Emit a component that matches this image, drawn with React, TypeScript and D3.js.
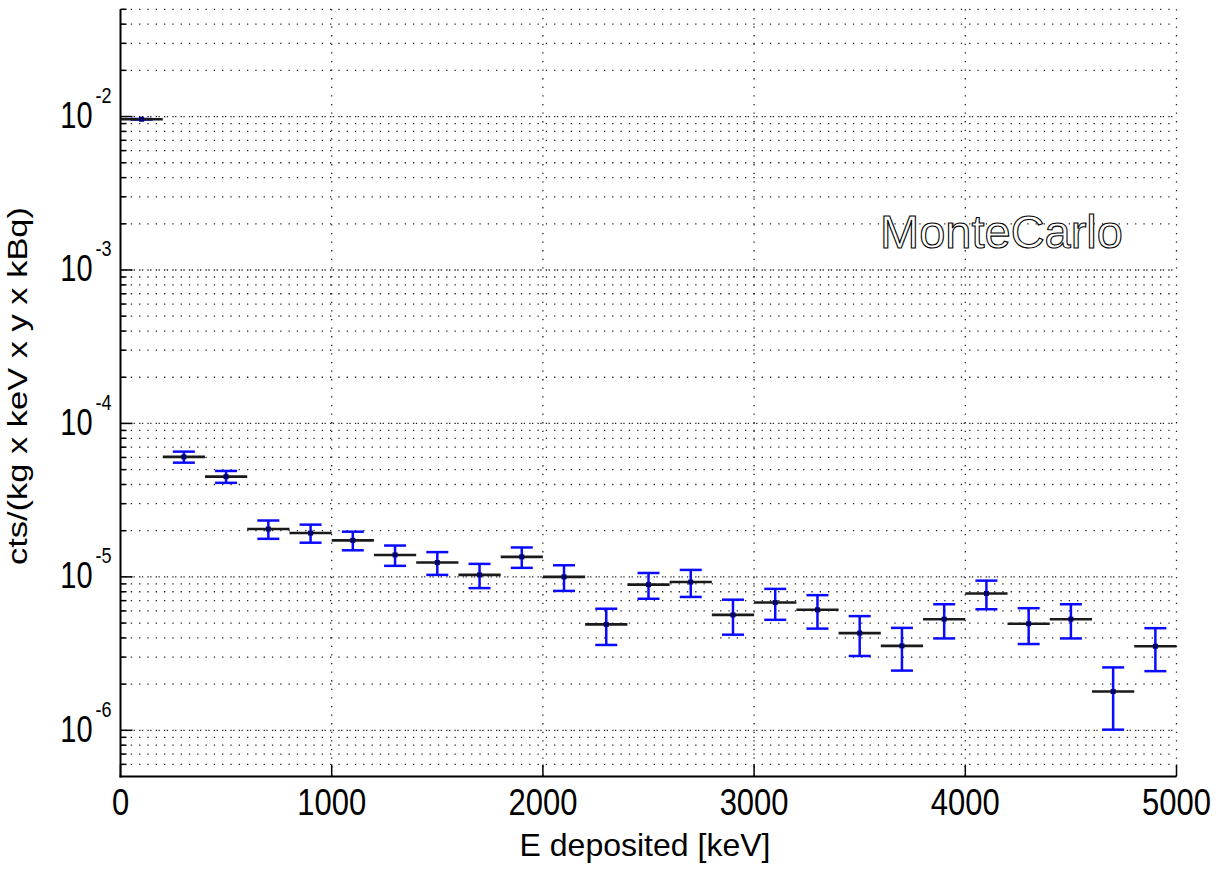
import React, { useEffect, useRef } from 'react';
import * as d3 from 'd3';

// bin centres [keV], each bin is 200 keV wide
const binCenters = [100, 300, 500, 700, 900, 1100, 1300, 1500, 1700, 1900, 2100, 2300, 2500,
  2700, 2900, 3100, 3300, 3500, 3700, 3900, 4100, 4300, 4500, 4700, 4900];
const binWidth = 200;
const rates = [9.6e-3, 6.05e-5, 4.5e-5, 2.05e-5, 1.93e-5, 1.73e-5, 1.39e-5, 1.24e-5, 1.03e-5,
  1.35e-5, 1.0e-5, 4.9e-6, 8.9e-6, 9.25e-6, 5.65e-6, 6.8e-6, 6.1e-6, 4.3e-6, 3.55e-6, 5.3e-6,
  7.8e-6, 4.95e-6, 5.3e-6, 1.79e-6, 3.53e-6];
const rateErrors = [4e-5, 5e-6, 4e-6, 2.8e-6, 2.6e-6, 2.4e-6, 2.1e-6, 2.1e-6, 1.85e-6, 2.05e-6,
  1.9e-6, 1.3e-6, 1.7e-6, 1.85e-6, 1.45e-6, 1.55e-6, 1.5e-6, 1.25e-6, 1.1e-6, 1.33e-6, 1.65e-6,
  1.3e-6, 1.33e-6, 7.8e-7, 1.1e-6];

const energyTicks = [0, 1000, 2000, 3000, 4000, 5000];
const decadeTicks = [1e-6, 1e-5, 1e-4, 1e-3, 1e-2];
const decadeExponents = ['-6', '-5', '-4', '-3', '-2'];
const yDomain = [5e-7, 5e-2];

const xTitle = 'E deposited [keV]';
const yTitle = 'cts/(kg x keV x y x kBq)';
const tag = 'MonteCarlo';

const FONT = '"Liberation Sans", Arial, Helvetica, sans-serif';

export default function App() {
  const ref = useRef(null);

  useEffect(() => {
    const svg = d3.select(ref.current);
    svg.selectAll('*').remove();

    const x = d3.scaleLinear().domain([0, 5000]).range([120.5, 1176.5]);
    const y = d3.scaleLog().domain(yDomain).range([776.5, 9.3]);
    const left = x(0), right = x(5000), top = y(yDomain[1]), bottom = y(yDomain[0]);

    // minor grid values 2..9 x 10^k inside the domain
    const minor = [];
    for (let k = -7; k <= -2; k++) {
      for (let m = 2; m <= 9; m++) {
        const v = m * Math.pow(10, k);
        if (v > yDomain[0] * 1.001 && v <= yDomain[1] * 1.001) minor.push(v);
      }
    }

    const grid = svg.append('g').attr('class', 'grid');
    grid.selectAll('.minor')
      .data(minor)
      .enter()
      .append('line')
      .attr('x1', left + 2).attr('x2', right)
      .attr('y1', d => y(d)).attr('y2', d => y(d))
      .attr('stroke', '#222')
      .attr('stroke-width', 1.3)
      .attr('stroke-dasharray', '1.3 7');

    grid.selectAll('.major')
      .data(decadeTicks)
      .enter()
      .append('line')
      .attr('x1', left + 2).attr('x2', right)
      .attr('y1', d => y(d)).attr('y2', d => y(d))
      .attr('stroke', '#222')
      .attr('stroke-width', 1.3)
      .attr('stroke-dasharray', '1.3 1.5 1.3 4.2');

    grid.selectAll('.vgrid')
      .data(energyTicks.slice(1))
      .enter()
      .append('line')
      .attr('x1', d => x(d)).attr('x2', d => x(d))
      .attr('y1', top).attr('y2', bottom)
      .attr('stroke', '#222')
      .attr('stroke-width', 1.3)
      .attr('stroke-dasharray', '1.3 7.3');

    // axes (left and bottom only)
    const axes = svg.append('g').attr('class', 'axes');
    axes.append('line')
      .attr('x1', left).attr('x2', left).attr('y1', top).attr('y2', bottom + 1)
      .attr('stroke', '#000').attr('stroke-width', 2);
    axes.append('line')
      .attr('x1', left - 1).attr('x2', right).attr('y1', bottom).attr('y2', bottom)
      .attr('stroke', '#000').attr('stroke-width', 2);

    axes.selectAll('.ytickMinor')
      .data(minor)
      .enter()
      .append('line')
      .attr('x1', left).attr('x2', left + 6)
      .attr('y1', d => y(d)).attr('y2', d => y(d))
      .attr('stroke', '#000').attr('stroke-width', 1.5);
    axes.selectAll('.ytickMajor')
      .data(decadeTicks)
      .enter()
      .append('line')
      .attr('x1', left).attr('x2', left + 12)
      .attr('y1', d => y(d)).attr('y2', d => y(d))
      .attr('stroke', '#000').attr('stroke-width', 1.5);
    axes.selectAll('.xtick')
      .data(energyTicks)
      .enter()
      .append('line')
      .attr('x1', d => x(d)).attr('x2', d => x(d))
      .attr('y1', bottom).attr('y2', bottom - 12)
      .attr('stroke', '#000').attr('stroke-width', 1.5);

    // tick labels
    axes.selectAll('.xlabel')
      .data(energyTicks)
      .enter()
      .append('text')
      .attr('transform', d => `translate(${x(d)},${bottom + 38}) scale(1,1.2)`)
      .attr('text-anchor', 'middle')
      .attr('font-family', FONT)
      .attr('font-size', 31)
      .text(d => String(d));

    const ylab = axes.selectAll('.ylabel')
      .data(decadeTicks)
      .enter()
      .append('g');
    ylab.append('text')
      .attr('transform', d => `translate(${left - 28},${y(d) + 11.5}) scale(1,1.25)`)
      .attr('text-anchor', 'end')
      .attr('font-family', FONT)
      .attr('font-size', 29)
      .text('10');
    ylab.append('text')
      .attr('transform', d => `translate(${left - 25},${y(d) - 13.5}) scale(1,1.2)`)
      .attr('font-family', FONT)
      .attr('font-size', 18)
      .text((d, i) => decadeExponents[i]);

    // titles
    svg.append('text')
      .attr('x', 645).attr('y', 856)
      .attr('text-anchor', 'middle')
      .attr('font-family', FONT)
      .attr('font-size', 32)
      .text(xTitle);
    svg.append('text')
      .attr('transform', 'translate(27,386) rotate(-90)')
      .attr('text-anchor', 'middle')
      .attr('font-family', FONT)
      .attr('font-size', 27)
      .attr('textLength', 358)
      .attr('lengthAdjust', 'spacingAndGlyphs')
      .text(yTitle);

    svg.append('text')
      .attr('x', 880).attr('y', 248)
      .attr('font-family', FONT)
      .attr('font-size', 47)
      .attr('fill', '#fff')
      .attr('stroke', '#000')
      .attr('stroke-width', 1.1)
      .text(tag);

    // data: error bars, bin widths, markers
    const data = binCenters.map((c, i) => ({ c, v: rates[i], e: rateErrors[i] }));
    const pts = svg.append('g').attr('class', 'points')
      .selectAll('.pt')
      .data(data)
      .enter()
      .append('g');

    pts.append('line')
      .attr('x1', d => x(d.c)).attr('x2', d => x(d.c))
      .attr('y1', d => y(d.v + d.e)).attr('y2', d => y(d.v - d.e))
      .attr('stroke', '#0a0aff').attr('stroke-width', 2.5);
    pts.append('line')
      .attr('x1', d => x(d.c) - 11).attr('x2', d => x(d.c) + 11)
      .attr('y1', d => y(d.v + d.e)).attr('y2', d => y(d.v + d.e))
      .attr('stroke', '#0a0aff').attr('stroke-width', 2.5);
    pts.append('line')
      .attr('x1', d => x(d.c) - 11).attr('x2', d => x(d.c) + 11)
      .attr('y1', d => y(d.v - d.e)).attr('y2', d => y(d.v - d.e))
      .attr('stroke', '#0a0aff').attr('stroke-width', 2.5);
    pts.append('line')
      .attr('x1', d => x(d.c - binWidth / 2)).attr('x2', d => x(d.c + binWidth / 2))
      .attr('y1', d => y(d.v)).attr('y2', d => y(d.v))
      .attr('stroke', '#1a1a1a').attr('stroke-width', 2.6);
    pts.append('rect')
      .attr('x', d => x(d.c) - 2.5).attr('y', d => y(d.v) - 2.5)
      .attr('width', 5).attr('height', 5)
      .attr('fill', '#000070');
  }, []);

  return (
    <svg ref={ref} width={1228} height={869}
      style={{ position: 'absolute', left: 0, top: 0, background: '#fff' }} />
  );
}
